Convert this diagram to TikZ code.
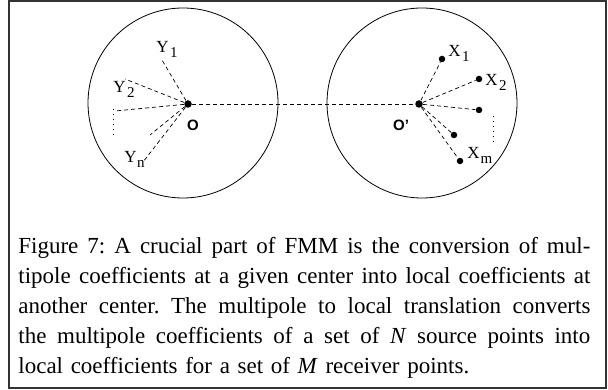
\documentclass[tikz,border=0pt]{standalone}
\usepackage{fontspec}
\setmainfont{Liberation Serif}
\setsansfont{Liberation Sans}
\usepackage{tikz}

\newcommand{\sublbl}[3][1.5pt]{#2\kern#1\raisebox{-5pt}{\fontsize{15}{15}\selectfont #3}}
\newcommand{\capline}[1]{\leavevmode\hbox to 572pt{\spaceskip=0.25em plus 1em minus 0.05em\relax #1}\par}

\begin{document}
\frenchspacing
\begin{tikzpicture}[x=1pt,y=-1pt,line width=0.8pt,
    center dot/.style={circle,fill,inner sep=0pt,minimum size=7.5pt},
    point/.style={circle,fill,inner sep=0pt,minimum size=6.5pt},
    link/.style={dash pattern=on 4pt off 3pt,line width=0.7pt},
    more/.style={dash pattern=on 1.2pt off 3.8pt,line width=0.9pt},
    lbl/.style={anchor=base west,inner sep=0pt,font=\fontsize{17}{17}\selectfont},
    ctr/.style={inner sep=0pt,font=\sffamily\bfseries\fontsize{15}{15}\selectfont}]
    \useasboundingbox (0,0) rectangle (608,390);
    \draw[black!80,line width=1.2pt] (9,1) rectangle (606,388);

    % the two boxes
    \node[circle,draw,minimum size=190pt,inner sep=0pt] (src) at (183,103) {};
    \node[circle,draw,minimum size=190pt,inner sep=0pt] (dst) at (422,103) {};

    \node[center dot] (O) at (188,104) {};
    \node[center dot] (O2) at (419,104) {};
    \node[ctr] (lO) at (193,125) {O};
    \node[ctr] (lO2) at (401,125) {O'};

    % sources
    \coordinate (y1) at (162,60);
    \coordinate (y2) at (125,79);
    \coordinate (y3) at (115,111);
    \coordinate (y4) at (150,135);
    \coordinate (y5) at (143,162);
    \coordinate (ya) at (113,109);
    \coordinate (yb) at (113,136);
    \node[lbl] (ly1) at (156,53) {\sublbl{Y}{1}};
    \node[lbl] (ly2) at (113,93) {\sublbl{Y}{2}};
    \node[lbl] (lyn) at (124,163) {\sublbl[0.5pt]{Y}{n}};

    % receivers
    \node[point] (x1) at (442,59) {};
    \node[point] (x2) at (479,79) {};
    \node[point] (x3) at (479,110) {};
    \node[point] (x4) at (454,135) {};
    \node[point] (x5) at (460,161) {};
    \coordinate (xa) at (493,116);
    \coordinate (xb) at (493,143);
    \node[lbl] (lx1) at (448,57) {\sublbl{X}{1}};
    \node[lbl] (lx2) at (485,86) {\sublbl{X}{2}};
    \node[lbl] (lxm) at (467,159) {\sublbl[1pt]{X}{m}};

    \path[link]
    (O) edge (O2)
    (O) edge (y1)
    (O) edge (y2)
    (O) edge (y3)
    (O) edge (y4)
    (O) edge (y5)
    (O2) edge (x1)
    (O2) edge (x2)
    (O2) edge (x3)
    (O2) edge (x4)
    (O2) edge (x5);
    \draw[more] (ya) -- (yb);
    \draw[more] (xa) -- (xb);

    \node[anchor=north west,inner sep=0pt,text width=572pt,align=left,
      font=\fontsize{23}{30}\selectfont] (cap) at (18,236.5) {%
      \capline{Figure 7: A crucial part of FMM is the conversion of mul-}
      \capline{tipole coefficients at a given center into local coefficients at}
      \capline{another center. The multipole to local translation converts}
      \capline{the multipole coefficients of a set of \emph{N} source points into}
      local coefficients for a set of \emph{M} receiver points.};
  \end{tikzpicture}
\end{document}
